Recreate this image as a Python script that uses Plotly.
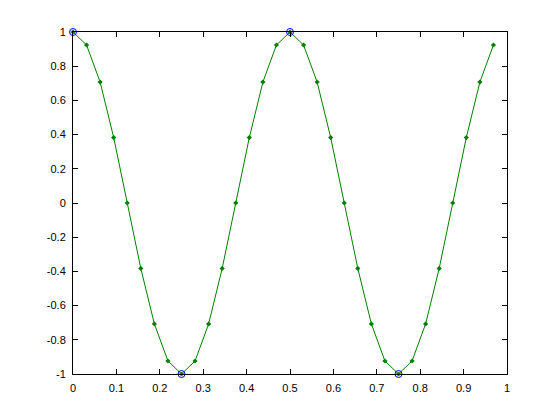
import plotly.graph_objects as go

t = [0.0, 0.03125, 0.0625, 0.09375, 0.125, 0.15625, 0.1875, 0.21875,
     0.25, 0.28125, 0.3125, 0.34375, 0.375, 0.40625, 0.4375, 0.46875,
     0.5, 0.53125, 0.5625, 0.59375, 0.625, 0.65625, 0.6875, 0.71875,
     0.75, 0.78125, 0.8125, 0.84375, 0.875, 0.90625, 0.9375, 0.96875]
y = [1.0, 0.9239, 0.7071, 0.3827, 0.0, -0.3827, -0.7071, -0.9239,
     -1.0, -0.9239, -0.7071, -0.3827, 0.0, 0.3827, 0.7071, 0.9239,
     1.0, 0.9239, 0.7071, 0.3827, 0.0, -0.3827, -0.7071, -0.9239,
     -1.0, -0.9239, -0.7071, -0.3827, 0.0, 0.3827, 0.7071, 0.9239]
t_peaks = [0.0, 0.25, 0.5, 0.75]
y_peaks = [1.0, -1.0, 1.0, -1.0]

x_ticks = [0, 0.1, 0.2, 0.3, 0.4, 0.5, 0.6, 0.7, 0.8, 0.9, 1]
x_labels = ["0", "0.1", "0.2", "0.3", "0.4", "0.5", "0.6", "0.7", "0.8", "0.9", "1"]
y_ticks = [-1, -0.8, -0.6, -0.4, -0.2, 0, 0.2, 0.4, 0.6, 0.8, 1]
y_labels = ["-1", "-0.8", "-0.6", "-0.4", "-0.2", "0", "0.2", "0.4", "0.6", "0.8", "1"]

fig = go.Figure()
fig.add_trace(go.Scatter(x=t, y=y, mode="lines+markers",
                         line=dict(color="#008000", width=1),
                         marker=dict(color="#008000", size=4, symbol="diamond"),
                         cliponaxis=False))
fig.add_trace(go.Scatter(x=t_peaks, y=y_peaks, mode="markers",
                         marker=dict(color="#0000ff", size=7, symbol="circle-open",
                                     line=dict(color="#0000ff", width=1)),
                         cliponaxis=False))

axis_common = dict(showgrid=False, zeroline=False, showline=True, linecolor="black",
                   linewidth=1, mirror="ticks", ticks="inside", ticklen=5,
                   tickcolor="black", ticklabelstandoff=4,
                   tickfont=dict(family="Liberation Sans, Arial", size=11, color="black"))

fig.update_layout(
    width=560, height=420,
    margin=dict(l=65, r=61, t=24, b=54, autoexpand=False),
    paper_bgcolor="white", plot_bgcolor="white",
    showlegend=False,
    xaxis=dict(range=[0, 1], tickvals=x_ticks, ticktext=x_labels, **axis_common),
    yaxis=dict(range=[-1, 1], tickvals=y_ticks, ticktext=y_labels, **axis_common),
)

fig.write_html("out.html")
